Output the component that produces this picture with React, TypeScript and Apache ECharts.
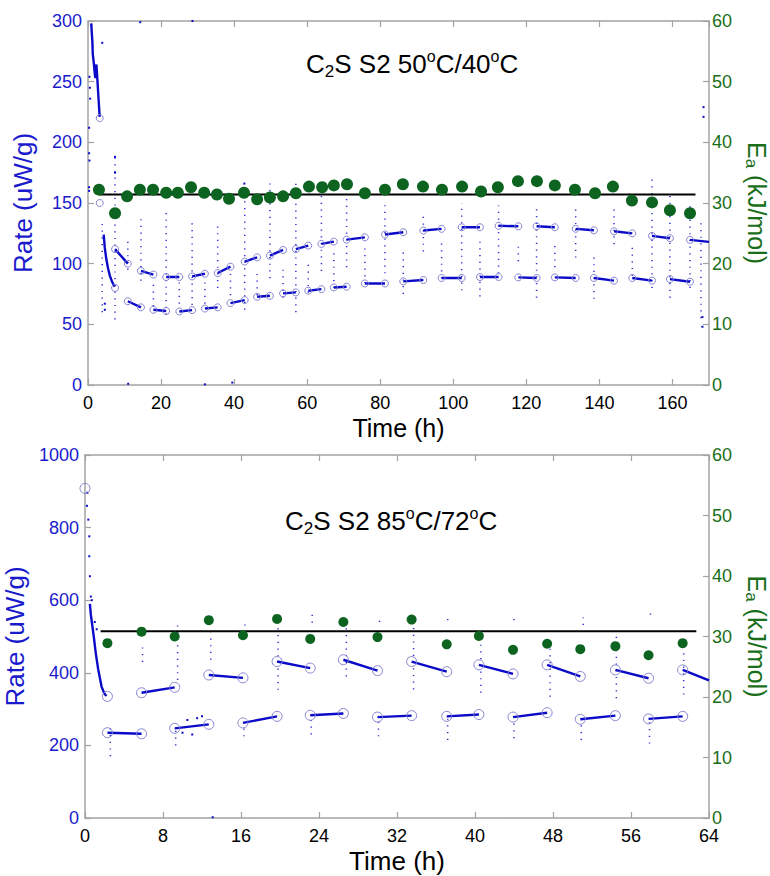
import React, { useEffect, useRef } from "react";
import * as echarts from "echarts";

// ---------------- TOP PANEL: C2S S2 50°C / 40°C ----------------
const topInitHigh: [number, number][] = [
  [0.9, 298], [1.0, 292], [1.2, 283], [1.3, 273], [1.6, 265], [1.8, 258], [2.0, 253],
  [2.1, 262], [2.3, 264], [2.5, 255], [2.8, 240], [3.2, 221],
];
const topInitLow: [number, number][] = [
  [4.3, 124], [4.6, 113], [5.0, 104], [5.5, 96], [6.0, 90], [6.6, 85], [7.3, 81],
];
const topExtraCircles: [number, number][] = [[3.2, 220], [3.2, 150], [7.4, 80]];
// [tStart, tEnd, rateStart, rateEnd]
const topSegments: [number, number, number, number][] = [
  [7.4, 10.9, 112, 100], [10.9, 14.5, 69, 64], [14.5, 17.9, 94, 91], [17.9, 21.4, 62, 61],
  [21.4, 25.0, 89, 89], [25.0, 28.5, 60.6, 61.7], [28.5, 32.0, 89.5, 91.7], [32.0, 35.5, 63, 64],
  [35.5, 39.0, 92.3, 97.5], [39.0, 42.9, 67.5, 70], [42.9, 46.3, 101.7, 105.2], [46.3, 49.8, 72.7, 73.5],
  [49.8, 53.4, 106.6, 111.3], [53.4, 56.9, 75.5, 76.3], [56.9, 60.3, 112, 114.9], [60.3, 63.9, 77.7, 79],
  [63.9, 67.3, 116.3, 118.2], [67.3, 70.8, 80.4, 81], [70.8, 75.8, 119.8, 121.7], [75.8, 81.3, 83.7, 83.7],
  [81.3, 86.3, 124, 125.9], [86.3, 91.8, 85.4, 86.5], [91.8, 96.8, 127.3, 128.7], [96.8, 102.3, 88.2, 88.2],
  [102.3, 107.3, 130, 130], [107.3, 112.4, 89, 89], [112.4, 117.8, 131.2, 130.8], [117.8, 122.8, 88.7, 88.2],
  [122.8, 127.8, 130.8, 130], [127.8, 133.5, 88.7, 88.2], [133.5, 138.5, 128.7, 127.5], [138.5, 144.0, 88.2, 86],
  [144.0, 149.0, 126.7, 125], [149.0, 154.4, 88.2, 86], [154.4, 159.3, 122.9, 121], [159.3, 164.8, 87.3, 85.1],
  [164.8, 170.0, 119.6, 118],
];
// [t, rateLow, rateHigh] : sparse transition columns
const topSpikes: [number, number, number][] = [
  [3.9, 60, 135], [7.4, 54, 188], [10.9, 95, 120], [14.5, 86, 140], [17.9, 65, 86], [21.4, 58, 144],
  [25.0, 67, 86], [28.5, 66, 137], [32.0, 67, 86], [35.5, 80, 132], [39.0, 74, 92], [42.9, 62, 166],
  [46.3, 74, 92], [49.8, 88, 166], [53.4, 72, 99], [56.9, 60, 170], [60.3, 76, 103], [63.9, 94, 170],
  [67.3, 80, 110], [70.8, 97, 154], [75.8, 84, 117], [81.3, 92, 150], [86.3, 75, 113], [91.8, 110, 142],
  [96.8, 88, 117], [102.3, 78, 150], [107.3, 73, 120], [112.4, 92, 148], [117.8, 102, 116], [122.8, 72, 148],
  [127.8, 97, 116], [133.5, 105, 148], [138.5, 71, 107], [144.0, 116, 148], [149.0, 90, 114], [154.4, 80, 170],
  [159.3, 72, 158], [164.8, 80, 150], [167.8, 55, 136],
];
const topOutliers: [number, number][] = [
  [0.3, 212], [0.3, 191], [0.4, 185], [0.3, 163], [0.5, 245], [0.6, 236], [0.4, 254], [0.3, 160],
  [3.9, 282], [14.3, 299], [28.6, 300], [7.4, 175], [7.4, 188], [11.0, 1], [32.0, 0.5], [39.5, 2],
  [168.5, 229], [168.5, 221], [168.2, 48], [168.2, 56], [4.6, 62], [4.6, 67], [42.8, 166],
];
const topEaTime = [
  3.0, 7.4, 10.7, 14.2, 17.8, 21.4, 24.6, 28.2, 31.8, 35.3, 38.6, 42.7, 46.3, 49.8, 53.4, 56.9, 60.5, 64.1, 67.3,
  70.9, 75.8, 81.3, 86.2, 91.7, 96.9, 102.4, 107.6, 112.2, 117.7, 122.9, 127.8, 133.3, 138.8, 143.7, 148.9, 154.4,
  159.3, 164.8,
];
const topEaValue = [
  32.2, 28.3, 31.1, 32.2, 32.2, 31.7, 31.7, 32.6, 31.7, 31.4, 30.7, 31.7, 30.6, 30.9, 31.1, 31.6, 32.7, 32.6, 32.9,
  33.1, 31.6, 32.2, 33.1, 32.7, 32.2, 32.7, 31.9, 32.6, 33.6, 33.6, 32.9, 32.2, 31.6, 32.7, 30.4, 30.1,
  28.8, 28.3,
];
const topEaMean = 31.4;
const topMeanSpan = [3.0, 166.3];

// ---------------- BOTTOM PANEL: C2S S2 85°C / 72°C ----------------
const botInit: [number, number][] = [
  [0.5, 590], [0.6, 560], [0.75, 530], [0.9, 500], [1.1, 455], [1.35, 410], [1.7, 362], [2.0, 342], [2.2, 336],
];
const botExtraCircles: [number, number][] = [[0, 908], [2.3, 335]];
const botSegments: [number, number, number, number][] = [
  [2.3, 5.8, 235, 232], [5.8, 9.2, 345, 360], [9.2, 12.7, 247, 258], [12.7, 16.2, 394, 386],
  [16.2, 19.7, 262, 280], [19.7, 23.1, 431, 413], [23.1, 26.5, 283, 288], [26.5, 30.0, 436, 406],
  [30.0, 33.5, 278, 282], [33.5, 37.1, 431, 403], [37.1, 40.4, 280, 285], [40.4, 43.9, 422, 397],
  [43.9, 47.4, 278, 290], [47.4, 50.8, 422, 390], [50.8, 54.4, 272, 282], [54.4, 57.8, 408, 385],
  [57.8, 61.3, 273, 280], [61.3, 64.0, 408, 379],
];
const botSpikes: [number, number, number][] = [
  [2.6, 170, 260], [5.9, 430, 470], [9.5, 380, 530], [12.9, 436, 510], [16.4, 530, 545], [19.8, 353, 541],
  [23.3, 538, 560], [26.8, 390, 532], [30.2, 540, 555], [33.7, 354, 535], [37.2, 545, 560], [40.6, 345, 525],
  [44.0, 545, 555], [47.7, 334, 491], [51.1, 532, 552], [54.5, 330, 505], [58.0, 560, 568], [61.4, 340, 500],
  [9.3, 200, 250], [16.3, 225, 262], [23.2, 230, 280], [30.1, 225, 275], [37.2, 215, 275], [44.0, 220, 270],
  [50.9, 215, 270], [57.9, 205, 270],
];
const botOutliers: [number, number][] = [
  [0.24, 896], [0.34, 822], [0.44, 776], [0.44, 721], [0.5, 666], [0.2, 860], [0.6, 610], [0.7, 600],
  [13.1, 2], [10.5, 270], [11.0, 230], [11.5, 275], [12.0, 280], [10.0, 235], [1.2, 520], [1.0, 540],
];
const botEaTime = [
  2.3, 5.8, 9.2, 12.7, 16.2, 19.7, 23.1, 26.5, 30.0, 33.5, 37.1, 40.4, 43.9, 47.4, 50.8, 54.4, 57.8, 61.3,
];
const botEaValue = [
  28.9, 30.8, 30.0, 32.7, 30.2, 32.9, 29.6, 32.4, 29.9, 32.8, 28.7, 30.1, 27.8, 28.8, 27.9, 28.4, 26.9, 28.9,
];
const botEaMean = 30.85;
const botMeanSpan = [1.6, 62.7];

// ---------------- styling ----------------
const FONT = "'Liberation Sans', Arial, Helvetica, sans-serif";
const NARROW = "'Liberation Sans Narrow', 'Arial Narrow', 'Liberation Sans', Arial, sans-serif";
const BLUE_TEXT = "#1a1acd";
const GREEN_TEXT = "#1a6e1a";
const DOT_BLUE = "#0a0ac8";
const CIRCLE = "#8585d2";
const GREEN_DOT = "#0d6420";
const AXIS_GRAY = "#a3a3a3";

const axisBase = {
  axisLine: { show: true, onZero: false, lineStyle: { color: AXIS_GRAY, width: 1.5 } },
  axisTick: { show: true, inside: true, length: 6, lineStyle: { color: AXIS_GRAY, width: 1.2 } },
  splitLine: { show: false },
};

function panelSeries(
  p: number,
  xMax: number,
  init: [number, number][],
  init2: [number, number][] | null,
  extraCircles: [number, number][],
  segments: [number, number, number, number][],
  spikes: [number, number, number][],
  outliers: [number, number][],
  eaT: number[],
  eaV: number[],
  mean: number,
  span: number[],
  greenSize: number,
  circleSize: number
) {
  const xi = p * 2;
  const yl = p * 2;
  const yr = p * 2 + 1;
  const segLines = segments.map((s) => ({ coords: [[s[0], s[2]], [s[1], s[3]]] }));
  segLines.push({ coords: init as any });
  if (init2) segLines.push({ coords: init2 as any });
  const circles: [number, number][] = [...extraCircles];
  segments.forEach((s) => {
    circles.push([s[0], s[2]]);
    if (s[1] < xMax) circles.push([s[1], s[3]]);
  });
  return [
    {
      type: "lines",
      coordinateSystem: "cartesian2d",
      xAxisIndex: xi,
      yAxisIndex: yl,
      polyline: true,
      silent: true,
      data: spikes.map((s) => ({ coords: [[s[0], s[1]], [s[0], s[2]]] })),
      lineStyle: { color: DOT_BLUE, width: 1.5, type: [1.2, 5.5], opacity: 0.85 },
      z: 2,
    },
    {
      type: "lines",
      coordinateSystem: "cartesian2d",
      xAxisIndex: xi,
      yAxisIndex: yl,
      polyline: true,
      silent: true,
      data: segLines,
      lineStyle: { color: DOT_BLUE, width: 2.4, opacity: 1 },
      z: 3,
    },
    {
      type: "scatter",
      xAxisIndex: xi,
      yAxisIndex: yl,
      symbol: "rect",
      symbolSize: 2,
      data: outliers,
      itemStyle: { color: DOT_BLUE, opacity: 1 },
      silent: true,
      z: 3,
    },
    {
      type: "scatter",
      xAxisIndex: xi,
      yAxisIndex: yl,
      symbol: "circle",
      symbolSize: circleSize,
      data: circles,
      itemStyle: { color: "rgba(255,255,255,0)", borderColor: CIRCLE, borderWidth: 1, opacity: 1 },
      silent: true,
      z: 4,
    },
    {
      type: "line",
      xAxisIndex: xi,
      yAxisIndex: yr,
      data: [[span[0], mean], [span[1], mean]],
      symbol: "none",
      lineStyle: { color: "#000", width: 2 },
      silent: true,
      z: 5,
    },
    {
      type: "scatter",
      xAxisIndex: xi,
      yAxisIndex: yr,
      symbol: "circle",
      symbolSize: greenSize,
      data: eaT.map((t, i) => [t, eaV[i]]),
      itemStyle: { color: GREEN_DOT, opacity: 1 },
      silent: true,
      z: 6,
    },
  ];
}

function titleRich(text: string, left: number, top: number) {
  return {
    text,
    left,
    top,
    textStyle: {
      fontFamily: FONT,
      fontSize: 26,
      fontWeight: "normal",
      color: "#000",
      rich: {
        b: { fontFamily: FONT, fontSize: 26, lineHeight: 32, color: "#000" },
        s: { fontFamily: FONT, fontSize: 17, lineHeight: 17, verticalAlign: "bottom", color: "#000" },
        p: { fontFamily: FONT, fontSize: 16, lineHeight: 16, verticalAlign: "top", color: "#000" },
      },
    },
  };
}

const eaRich = {
  color: GREEN_TEXT,
  fontSize: 25,
  fontFamily: FONT,
  rich: {
    e: { fontFamily: FONT, fontSize: 25, lineHeight: 28, color: GREEN_TEXT },
    a: { fontFamily: FONT, fontSize: 17, lineHeight: 17, verticalAlign: "bottom", color: GREEN_TEXT },
  },
};

export default function App() {
  const ref = useRef<HTMLDivElement>(null);
  useEffect(() => {
    if (!ref.current) return;
    const chart = echarts.init(ref.current, undefined, { renderer: "svg" });
    const xLabel = (size: number, family: string) => ({
      show: true,
      color: "#000",
      fontSize: size,
      fontFamily: family,
      margin: 9,
    });
    const plain = (v: number) => String(v);
    const option: any = {
      animation: false,
      backgroundColor: "#fff",
      title: [
        titleRich("{b|C}{s|2}{b|S S2 50}{p|o}{b|C/40}{p|o}{b|C}", 301, 43),
        titleRich("{b|C}{s|2}{b|S S2 85}{p|o}{b|C/72}{p|o}{b|C}", 280, 500),
      ],
      grid: [
        { left: 88, top: 21, width: 621, height: 364, outerBoundsMode: "none", containLabel: false },
        { left: 85, top: 455, width: 624, height: 363, outerBoundsMode: "none", containLabel: false },
      ],
      xAxis: [
        {
          ...axisBase,
          type: "value",
          gridIndex: 0,
          position: "bottom",
          min: 0,
          max: 170,
          interval: 20,
          axisLabel: { ...xLabel(18, FONT), showMaxLabel: false, formatter: plain },
          name: "Time (h)",
          nameLocation: "middle",
          nameGap: 30,
          nameTextStyle: { fontFamily: FONT, fontSize: 25, color: "#000" },
        },
        {
          ...axisBase,
          type: "value",
          gridIndex: 0,
          position: "top",
          min: 0,
          max: 170,
          interval: 20,
          axisLabel: { show: false },
        },
        {
          ...axisBase,
          type: "value",
          gridIndex: 1,
          position: "bottom",
          min: 0,
          max: 64,
          interval: 8,
          axisLabel: { ...xLabel(18, NARROW), formatter: plain },
          name: "Time (h)",
          nameLocation: "middle",
          nameGap: 30,
          nameTextStyle: { fontFamily: NARROW, fontSize: 26, color: "#000" },
        },
        {
          ...axisBase,
          type: "value",
          gridIndex: 1,
          position: "top",
          min: 0,
          max: 64,
          interval: 8,
          axisLabel: { show: false },
        },
      ],
      yAxis: [
        {
          ...axisBase,
          type: "value",
          gridIndex: 0,
          position: "left",
          min: 0,
          max: 300,
          interval: 50,
          axisLabel: { color: BLUE_TEXT, fontSize: 18, fontFamily: FONT, margin: 6, formatter: plain },
          name: "Rate (uW/g)",
          nameLocation: "middle",
          nameGap: 52,
          nameTextStyle: { fontFamily: FONT, fontSize: 26, color: BLUE_TEXT },
        },
        {
          ...axisBase,
          type: "value",
          gridIndex: 0,
          position: "right",
          min: 0,
          max: 60,
          interval: 10,
          axisLabel: { color: GREEN_TEXT, fontSize: 18, fontFamily: FONT, margin: 3, formatter: plain },
          name: "{e|E}{a|a}{e| (kJ/mol)}",
          nameLocation: "middle",
          nameRotate: -90,
          nameGap: 31,
          nameTextStyle: eaRich,
        },
        {
          ...axisBase,
          type: "value",
          gridIndex: 1,
          position: "left",
          min: 0,
          max: 1000,
          interval: 200,
          axisLabel: { color: BLUE_TEXT, fontSize: 18, fontFamily: FONT, margin: 6, formatter: plain },
          name: "Rate (uW/g)",
          nameLocation: "middle",
          nameGap: 50,
          nameTextStyle: { fontFamily: FONT, fontSize: 26, color: BLUE_TEXT },
        },
        {
          ...axisBase,
          type: "value",
          gridIndex: 1,
          position: "right",
          min: 0,
          max: 60,
          interval: 10,
          axisLabel: { color: GREEN_TEXT, fontSize: 18, fontFamily: FONT, margin: 3, formatter: plain },
          name: "{e|E}{a|a}{e| (kJ/mol)}",
          nameLocation: "middle",
          nameRotate: -90,
          nameGap: 31,
          nameTextStyle: eaRich,
        },
      ],
      series: [
        ...panelSeries(0, 170, topInitHigh, topInitLow, topExtraCircles, topSegments, topSpikes, topOutliers,
          topEaTime, topEaValue, topEaMean, topMeanSpan, 12, 7),
        ...panelSeries(1, 64, botInit, null, botExtraCircles, botSegments, botSpikes, botOutliers,
          botEaTime, botEaValue, botEaMean, botMeanSpan, 10, 10),
      ],
    };
    chart.setOption(option);
    return () => chart.dispose();
  }, []);
  return (
    <div
      ref={ref}
      style={{ position: "fixed", left: 0, top: 0, width: 770, height: 876, background: "#fff" }}
    />
  );
}
